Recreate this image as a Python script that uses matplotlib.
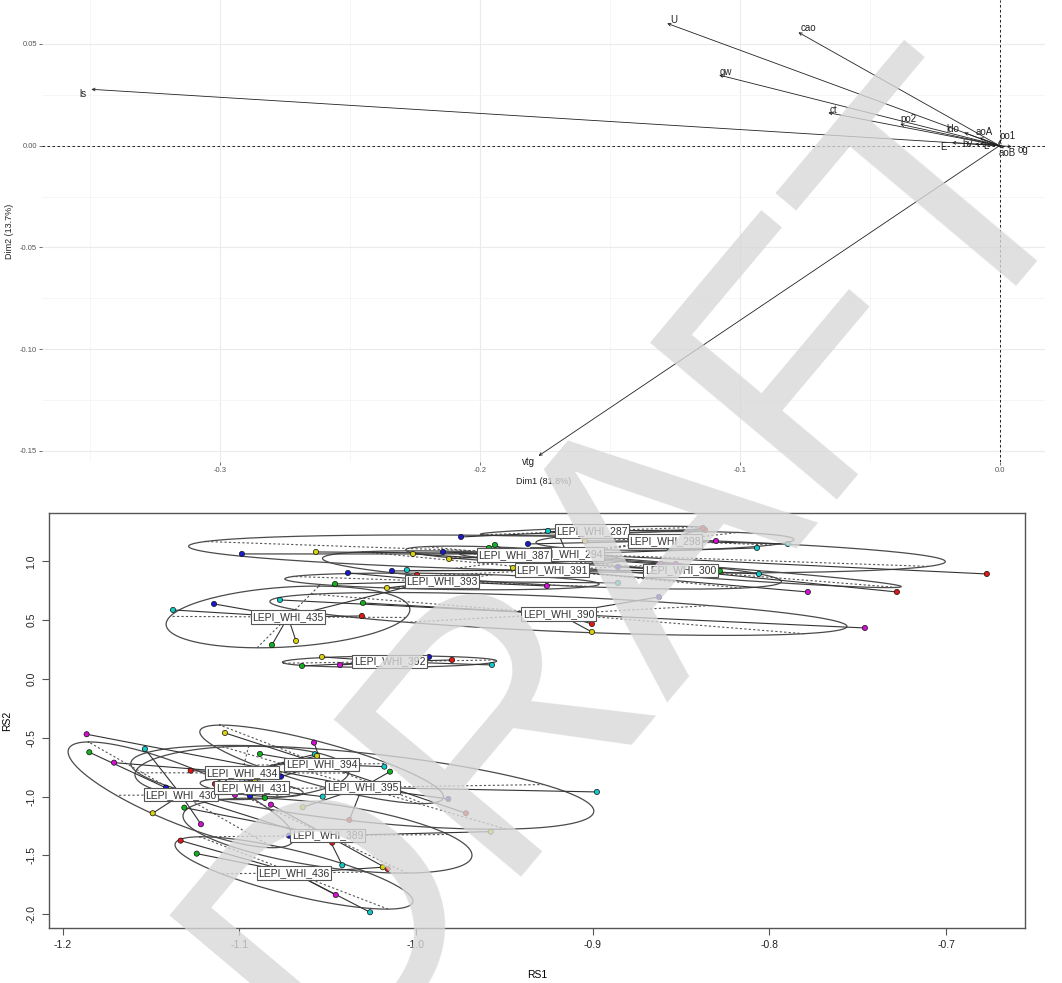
import numpy as np
import matplotlib
matplotlib.use('Agg')
import matplotlib.pyplot as plt

plt.rcParams['font.family'] = ['Liberation Sans', 'DejaVu Sans']

# --- ACP des variables (panneau du haut) ---
var_names = ['ls', 'U', 'cao', 'gw', 'ct', 'po2', 'ldo', 'aoA', 'po1', 'og', 'aoB', 'E', 'bv', 'L', 'vtg']
dim1 = [-0.3495, -0.1279, -0.0774, -0.1079, -0.0659, -0.0382, -0.0136, -0.0077, 0.0002, 0.0047, 0.0017, -0.0183, -0.0094, -0.0075, -0.1774]
dim2 = [0.0277, 0.0601, 0.0557, 0.0347, 0.0162, 0.0105, 0.0064, 0.0039, 0.0028, -0.0005, -0.0013, 0.0015, 0.0008, 0.0011, -0.1525]

# --- scores des individus par groupe (panneau du bas) ---
grp_names = ['287', '298', '294', '391', '300', '387', '393', '435', '390', '392',
             '394', '395', '430', '434', '431', '389', '436']
pt_grp = [g for g in grp_names for _ in range(6)]
pt_col = ['b', 'c', 'r', 'g', 'y', 'm',
          'y', 'm', 'g', 'c', 'b', 'r',
          'b', 'y', 'r', 'c', 'g', 'm',
          'b', 'm', 'y', 'g', 'c', 'r',
          'r', 'c', 'g', 'm', 'b', 'y',
          'b', 'y', 'g', 'm', 'c', 'r',
          'g', 'b', 'r', 'm', 'c', 'y',
          'c', 'b', 'g', 'y', 'r', 'm',
          'b', 'r', 'y', 'm', 'c', 'g',
          'y', 'g', 'm', 'b', 'r', 'c',
          'y', 'm', 'c', 'b', 'r', 'g',
          'r', 'b', 'g', 'y', 'c', 'm',
          'g', 'c', 'b', 'y', 'm', 'r',
          'm', 'r', 'c', 'y', 'b', 'g',
          'm', 'y', 'c', 'r', 'b', 'g',
          'b', 'y', 'c', 'r', 'm', 'g',
          'm', 'c', 'r', 'g', 'y', 'b']
rs1 = [-0.9745, -0.9253, -0.8364, -0.8930, -0.8845, -0.8885,
       -0.9044, -0.8302, -0.8563, -0.7895, -0.9366, -0.8376,
       -1.0985, -1.0566, -0.6769, -0.8070, -0.9287, -0.9196,
       -1.0136, -0.7782, -0.9451, -0.9587, -1.0051, -0.8376,
       -0.7278, -0.8059, -0.8280, -0.8529, -0.8857, -1.0017,
       -0.9847, -0.9813, -0.9553, -0.8613, -0.9440, -0.9406,
       -1.0458, -1.0385, -0.9994, -0.9259, -0.8857, -1.0164,
       -1.1375, -1.1143, -1.0815, -1.0679, -1.0306, -1.0028,
       -0.8625, -0.9004, -0.9004, -0.7459, -1.0770, -1.0300,
       -1.0532, -1.0645, -1.0430, -0.9926, -0.9796, -0.9570,
       -1.1081, -1.0577, -1.0179, -1.0764, -0.9717, -1.0883,
       -1.0377, -0.9817, -1.0147, -1.0641, -0.8976, -1.1864,
       -1.1849, -1.1534, -1.1415, -1.1490, -1.1217, -1.0474,
       -1.1709, -1.1275, -1.0572, -1.0560, -1.0939, -1.0855,
       -1.1024, -1.0911, -1.0528, -1.1138, -1.1041, -1.0939,
       -1.0719, -0.9577, -1.0417, -1.0160, -1.0821, -1.1311,
       -1.0454, -1.0260, -1.1332, -1.1241, -1.0188, -1.0668]
rs2 = [1.2083, 1.2594, 1.2680, 1.2764, 1.2509, 1.2934,
       1.1743, 1.1743, 1.1148, 1.1488, 1.1488, 1.2849,
       1.0638, 1.0808, 0.8937, 1.1148, 0.9872, 1.2423,
       0.9192, 0.7406, 0.9447, 1.1148, 0.9277, 0.9192,
       0.7406, 0.8937, 0.9192, 0.9787, 0.9532, 1.0638,
       1.0808, 1.0213, 1.1403, 0.9787, 1.0638, 1.0468,
       0.8087, 0.9022, 0.8852, 0.7917, 0.8172, 0.7747,
       0.5876, 0.6386, 0.2900, 0.3240, 0.5366, 0.7917,
       0.6981, 0.4685, 0.4005, 0.4345, 0.6726, 0.6471,
       0.1879, 0.1114, 0.1199, 0.1879, 0.1624, 0.1199,
       -0.4583, -0.5408, -0.7449, -0.8299, -1.1412, -0.6369,
       -1.1981, -1.0196, -0.7874, -1.0901, -0.9600, -0.4694,
       -0.6224, -0.5944, -0.9235, -1.1412, -1.2347, -1.3912,
       -0.7109, -0.7789, -0.6395, -0.6539, -0.9940, -1.0110,
       -0.9855, -0.8580, -1.0000, -0.8920, -0.9090, -0.9090,
       -1.3316, -1.2976, -1.5833, -1.6148, -1.0680, -1.0935,
       -1.8359, -1.9830, -1.3741, -1.4847, -1.6003, -1.6148]

# couleurs des points
palette = {'b': '#1a1acc', 'c': '#10c8c8', 'g': '#10b020', 'y': '#d8d010', 'r': '#e01818', 'm': '#d010d0'}

# décalages des étiquettes de flèches (en pixels)
lab_off = {'ls': (-8, -5), 'U': (7, 3), 'cao': (10, 4), 'gw': (7, 3), 'ct': (5, 3), 'po2': (8, 5),
           'ldo': (-11, 4), 'aoA': (5, 6), 'po1': (7, 4), 'og': (11, -3), 'aoB': (3, -5),
           'E': (-8, -4), 'bv': (-8, 0), 'L': (6, -3), 'vtg': (-10, -6)}

W, H = 1062, 983
fig = plt.figure(figsize=(W / 100, H / 100), dpi=100)

# ===== panneau du haut : cercle des variables façon factoextra =====
ax1 = fig.add_axes([42 / W, 1 - 462 / H, 1003 / W, 462 / H])
ax1.set_xlim(-0.3685, 0.0175)
ax1.set_ylim(-0.1555, 0.0716)
for s in ax1.spines.values():
    s.set_visible(False)
ax1.set_xticks([-0.3, -0.2, -0.1, 0.0])
ax1.set_xticklabels(['-0.3', '-0.2', '-0.1', '0.0'])
ax1.set_yticks([0.05, 0.0, -0.05, -0.10, -0.15])
ax1.set_yticklabels(['0.05', '0.00', '-0.05', '-0.10', '-0.15'])
ax1.set_xticks([-0.35, -0.25, -0.15, -0.05], minor=True)
ax1.set_yticks([0.025, -0.025, -0.075, -0.125], minor=True)
ax1.grid(True, which='major', color='#ebebeb', lw=0.8)
ax1.grid(True, which='minor', color='#f3f3f3', lw=0.5)
ax1.tick_params(which='major', length=2, width=0.5, color='#333333', labelsize=5.5,
                labelcolor='#555555', pad=1.5)
ax1.tick_params(which='minor', length=0)
ax1.set_axisbelow(True)
ax1.set_xlabel('Dim1 (81.8%)', fontsize=6.5, color='#222222', labelpad=2)
ax1.set_ylabel('Dim2 (13.7%)', fontsize=6.5, color='#222222', labelpad=4)

ax1.axhline(0, color='black', lw=0.6, ls=(0, (3, 3)))
ax1.axvline(0, color='black', lw=0.6, ls=(0, (3, 3)))

for name, x, y in zip(var_names, dim1, dim2):
    ax1.annotate('', xy=(x, y), xytext=(0, 0),
                 arrowprops=dict(arrowstyle='->', lw=0.6, color='#222222',
                                 mutation_scale=5, shrinkA=0, shrinkB=0))
    ax1.annotate(name, (x, y), xytext=lab_off[name], textcoords='offset pixels',
                 ha='center', va='center', fontsize=7, color='#222222')

# ===== panneau du bas : s.class (ade4) =====
ax2 = fig.add_axes([49 / W, 1 - 928 / H, 976 / W, 415 / H])
ax2.set_xlim(-1.2077, -0.6553)
ax2.set_ylim(-2.117, 1.412)

rs1 = np.array(rs1)
rs2 = np.array(rs2)
pt_grp = np.array(pt_grp)
t = np.linspace(0, 2 * np.pi, 200)
centres = {}
for g in grp_names:
    sel = pt_grp == g
    xy = np.column_stack([rs1[sel], rs2[sel]])
    m = xy.mean(axis=0)
    centres[g] = m
    cov = np.cov(xy.T, bias=True)
    val, vec = np.linalg.eigh(cov)
    a1 = 1.5 * np.sqrt(val[1]) * vec[:, 1]
    a2 = 1.5 * np.sqrt(val[0]) * vec[:, 0]
    ell = m[:, None] + np.outer(a1, np.cos(t)) + np.outer(a2, np.sin(t))
    ax2.plot(ell[0], ell[1], color='#4a4a4a', lw=0.9, zorder=2)
    for a in (a1, a2):
        ax2.plot([m[0] - a[0], m[0] + a[0]], [m[1] - a[1], m[1] + a[1]],
                 color='#555555', lw=0.8, ls=(0, (2, 2)), zorder=2)
    for px, py in xy:
        ax2.plot([m[0], px], [m[1], py], color='#333333', lw=0.8, zorder=3)

ax2.scatter(rs1, rs2, c=[palette[c] for c in pt_col], s=14, edgecolors='#111111',
            linewidths=0.5, zorder=4)

for g in grp_names:
    m = centres[g]
    ax2.text(m[0], m[1], 'LEPI_WHI_' + g, ha='center', va='center', fontsize=7.5,
             color='#333333', zorder=5,
             bbox=dict(boxstyle='square,pad=0.15', fc='white', ec='#555555', lw=0.8))

for s in ax2.spines.values():
    s.set_color('#555555')
    s.set_linewidth(1)
ax2.set_xticks([-1.2, -1.1, -1.0, -0.9, -0.8, -0.7])
ax2.set_xticklabels(['-1.2', '-1.1', '-1.0', '-0.9', '-0.8', '-0.7'])
ax2.set_yticks([1.0, 0.5, 0.0, -0.5, -1.0, -1.5, -2.0])
ax2.set_yticklabels(['1.0', '0.5', '0.0', '-0.5', '-1.0', '-1.5', '-2.0'], rotation=90, va='center')
ax2.tick_params(length=5, width=0.8, color='#555555', labelsize=7.5, labelcolor='#222222', pad=4)
ax2.set_xlabel('RS1', fontsize=7.5, labelpad=14)
ax2.set_ylabel('RS2', fontsize=7.5, labelpad=10)

# filigrane
fig.text(0.60, 0.43, 'DRAFT', rotation=50, fontsize=255, color='#d8d8d8', alpha=0.8,
         ha='center', va='center', zorder=100)

fig.savefig('out.png', dpi=100)
